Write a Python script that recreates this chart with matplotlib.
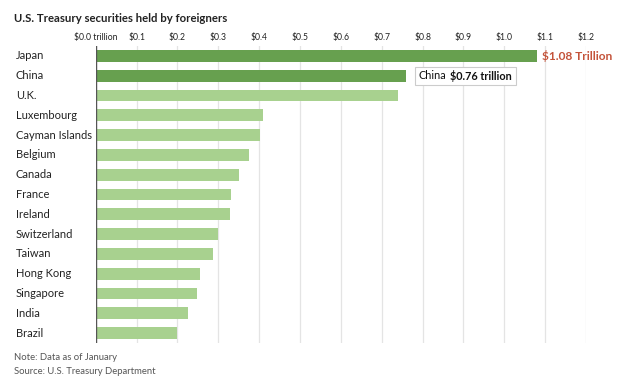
# -*- coding: utf-8 -*-
# U.S. Treasury securities held by foreigners - horizontal bar chart

import numpy as np
import matplotlib.pyplot as plt
from matplotlib.patches import Rectangle
from matplotlib.transforms import Bbox

countries = ['Japan', 'China', 'U.K.', 'Luxembourg', 'Cayman Islands', 'Belgium',
             'Canada', 'France', 'Ireland', 'Switzerland', 'Taiwan', 'Hong Kong',
             'Singapore', 'India', 'Brazil']
holdings = [1.08, 0.76, 0.74, 0.41, 0.403, 0.376, 0.35, 0.332, 0.329, 0.30,
            0.288, 0.256, 0.247, 0.225, 0.20]
tick_vals = [0.0, 0.1, 0.2, 0.3, 0.4, 0.5, 0.6, 0.7, 0.8, 0.9, 1.0, 1.1, 1.2]
tick_labels = ['$0.0 trillion', '$0.1', '$0.2', '$0.3', '$0.4', '$0.5', '$0.6',
               '$0.7', '$0.8', '$0.9', '$1.0', '$1.1', '$1.2']
highlight = ['Japan', 'China']

DARK = '#67a04f'
LIGHT = '#a8d18f'
plt.rcParams['font.family'] = ['Lato', 'DejaVu Sans']

W, H = 624, 392
fig = plt.figure(figsize=(W / 100, H / 100), dpi=100)
ax = fig.add_axes([95.7 / W, 1 - 343 / H, (586 - 95.7) / W, (343 - 46) / H])

#%% Bars
y = np.arange(len(countries))
colors = [DARK if c in highlight else LIGHT for c in countries]
ax.barh(y, holdings, height=0.6, color=colors, zorder=2)

ax.set_xlim(0, 1.2)
ax.set_ylim(len(countries) - 0.5, -0.5)
ax.set_xticks(tick_vals)
ax.set_xticklabels(tick_labels)
ax.xaxis.tick_top()
ax.tick_params(axis='x', length=0, pad=3, labelsize=6.2, colors='#222222')
ax.set_yticks([])
ax.grid(axis='x', color='#e4e4e4', linewidth=0.9, zorder=0)
for s in ax.spines.values():
    s.set_visible(False)
ax.axvline(0, color='#555555', linewidth=1.0, zorder=3)

# Country labels, left aligned at the figure edge
for i, c in enumerate(countries):
    ax.annotate(c, xy=(0, i), xycoords=('figure fraction', 'data'),
                xytext=(16, 0), textcoords='offset pixels',
                fontsize=8, va='center', ha='left', color='#222222')

#%% Annotations
ax.text(holdings[0] + 0.012, 0, '$1.08 Trillion', fontsize=8.6, fontweight='bold',
        color='#c4533a', va='center', ha='left', clip_on=False)

# China callout: regular + bold text inside a thin box
t1 = ax.annotate('China', xy=(holdings[1], 1), xytext=(9, 0),
                 textcoords='offset points', fontsize=7.8, va='center',
                 ha='left', color='#111111', zorder=6)
t2 = ax.annotate('$0.76 trillion', xy=(1, 0.5), xycoords=t1, xytext=(2.5, 0),
                 textcoords='offset points', fontsize=7.8, fontweight='bold',
                 va='center', ha='left', color='#111111', zorder=6)
fig.canvas.draw()
r = fig.canvas.get_renderer()
bb = Bbox.union([t1.get_window_extent(r), t2.get_window_extent(r)])
pad_x, pad_y = 4, 3
ax.add_patch(Rectangle((bb.x0 - pad_x, bb.y0 - pad_y), bb.width + 2 * pad_x,
                       bb.height + 2 * pad_y, transform=None, clip_on=False,
                       facecolor='white', edgecolor='#cccccc', lw=0.8, zorder=5))

#%% Title and notes
fig.text(14 / W, 1 - 18 / H, 'U.S. Treasury securities held by foreigners',
         fontsize=8.2, fontweight='bold', va='center', ha='left', color='#222222')
fig.text(14 / W, 1 - 358 / H, 'Note: Data as of January', fontsize=6.8,
         va='center', ha='left', color='#555555')
fig.text(14 / W, 1 - 372 / H, 'Source: U.S. Treasury Department', fontsize=6.8,
         va='center', ha='left', color='#555555')

fig.savefig('out.png', dpi=100)
